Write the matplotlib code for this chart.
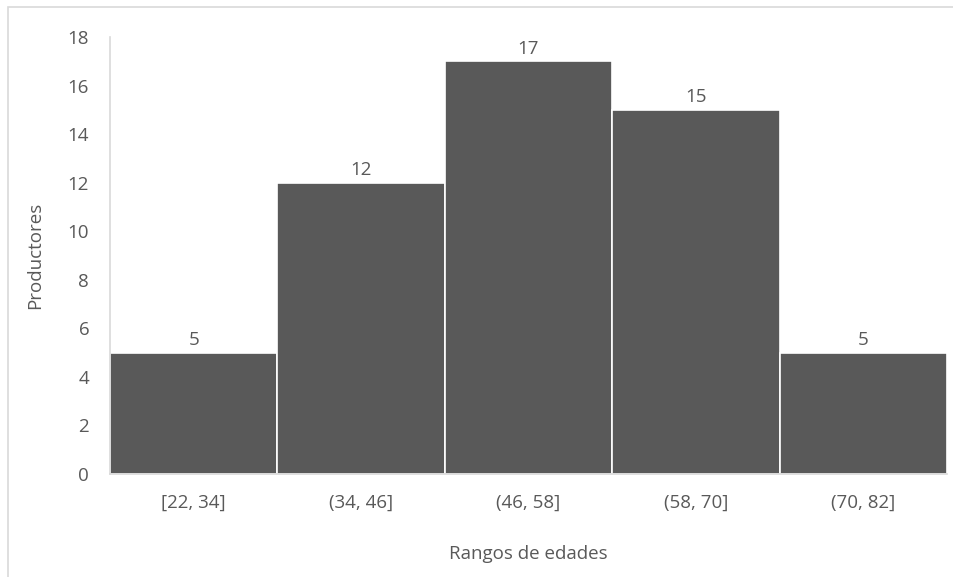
import matplotlib.pyplot as plt
from matplotlib.patches import Rectangle

# histogram of producer ages
rangos = ["[22, 34]", "(34, 46]", "(46, 58]", "(58, 70]", "(70, 82]"]
productores = [5, 12, 17, 15, 5]
yticks = [0, 2, 4, 6, 8, 10, 12, 14, 16, 18]

gris = "#595959"
plt.rcParams['font.family'] = ['Open Sans', 'DejaVu Sans']

fig = plt.figure(figsize=(9.54, 5.77), dpi=100)
# light chart border (top and left edges visible in the reference)
fig.patches.append(Rectangle((8 / 954, -0.05), 1.2, 1 - 7 / 577 + 0.05,
                             transform=fig.transFigure, fill=False,
                             edgecolor="#d9d9d9", linewidth=1.2))

ax = fig.add_axes([110 / 954, 1 - 474 / 577, 837 / 954, 437 / 577])
x = range(len(rangos))
bars = ax.bar(x, productores, width=1.0, color=gris, edgecolor="white",
              linewidth=1.2)
for b, v in zip(bars, productores):
    ax.text(b.get_x() + b.get_width() / 2, v + 0.15, str(v), ha="center",
            va="bottom", fontsize=13.5, color=gris)

ax.set_xlim(-0.5, len(rangos) - 0.5)
ax.set_ylim(0, 18)
ax.set_yticks(yticks)
ax.set_xticks(list(x))
ax.set_xticklabels(rangos)
ax.tick_params(axis="both", length=0, labelsize=13.5, colors=gris)
ax.tick_params(axis="x", pad=14)
ax.tick_params(axis="y", pad=15)

for s in ["top", "right"]:
    ax.spines[s].set_visible(False)
for s in ["left", "bottom"]:
    ax.spines[s].set_color("#d9d9d9")
    ax.spines[s].set_linewidth(1.2)

ax.set_xlabel("Rangos de edades", fontsize=13.5, color=gris, labelpad=24)
ax.set_ylabel("Productores", fontsize=13.5, color=gris, labelpad=17)

fig.savefig("out.png", dpi=100)
